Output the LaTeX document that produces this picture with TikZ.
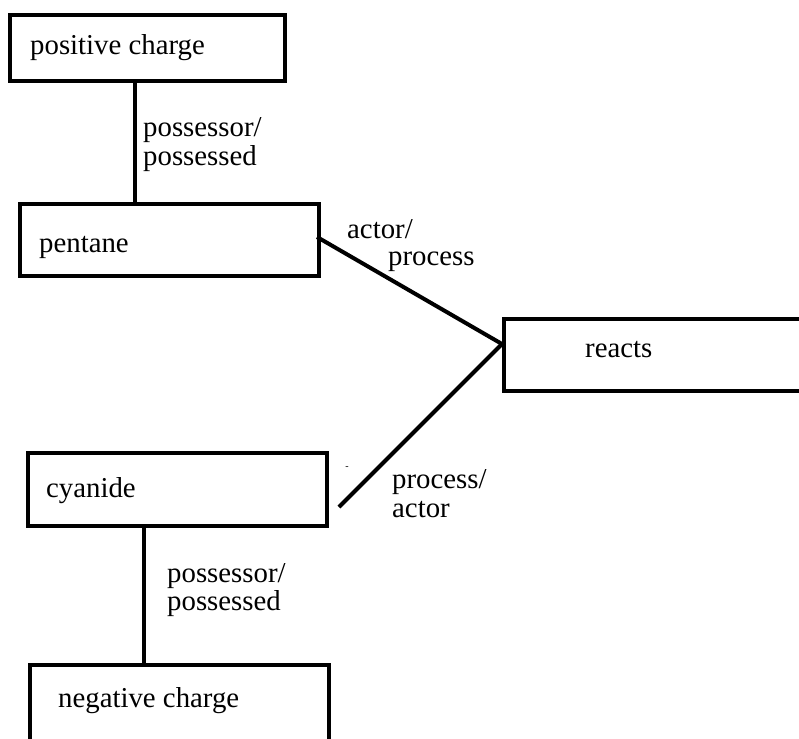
\documentclass[tikz,border=0pt]{standalone}
\usepackage{fontspec}
\setmainfont{Liberation Serif}
\usetikzlibrary{calc}
\begin{document}
\begin{tikzpicture}[x=1pt,y=-1pt,
  box/.style={draw, line width=4pt, rectangle, inner sep=0pt, outer sep=0pt, anchor=north west},
  conn/.style={line width=4pt},
  lbl/.style={anchor=base west, inner sep=0pt, font=\fontsize{28.8}{34}\selectfont}]
\useasboundingbox (0,0) rectangle (799,738);
\clip (0,0) rectangle (799,738);
% boxes
\node[box, minimum width=275pt, minimum height=66pt] (pos) at (10,15) {};
\node[box, minimum width=299pt, minimum height=72pt] (pent) at (20,204) {};
\node[box, minimum width=330pt, minimum height=72pt] (reacts) at (504,319) {};
\node[box, minimum width=299pt, minimum height=73pt] (cyan) at (28,453) {};
\node[box, minimum width=299pt, minimum height=100pt] (neg) at (30,665) {};
% box texts
\node[lbl] (tpos) at (30,55) {positive charge};
\node[lbl] (tpent) at (39,252) {pentane};
\node[lbl] (treacts) at (585,357) {reacts};
\node[lbl] (tcyan) at (46,497) {cyanide};
\node[lbl] (tneg) at (58,707) {negative charge};
% connectors
\coordinate (x1) at (135,0);
\coordinate (x2) at (144,0);
\coordinate (rj) at (502,344);
\coordinate (cend) at (339,507);
\coordinate (pstart) at (317,237);
\draw[conn] (pos.south -| x1) -- (pent.north -| x1);
\draw[conn] (pstart) -- (rj);
\draw[conn] (rj) -- (cend);
\draw[conn] ($(cyan.south -| x2)+(0,-2)$) -- (neg.north -| x2);
% connector labels
\node[lbl] (l1a) at (143,137) {possessor/};
\node[lbl] (l1b) at (143,165) {possessed};
\node[lbl] (l2a) at (347,238) {actor/};
\node[lbl] (l2b) at (388,265) {process};
\node[lbl] (l3a) at (392,488) {process/};
\node[lbl] (l3b) at (392,517) {actor};
\node[lbl] (l4a) at (167,582) {possessor/};
\node[lbl] (l4b) at (167,610) {possessed};
\node[inner sep=0pt, font=\fontsize{10}{12}\selectfont] (dash) at (347,468) {-};
\end{tikzpicture}
\end{document}
